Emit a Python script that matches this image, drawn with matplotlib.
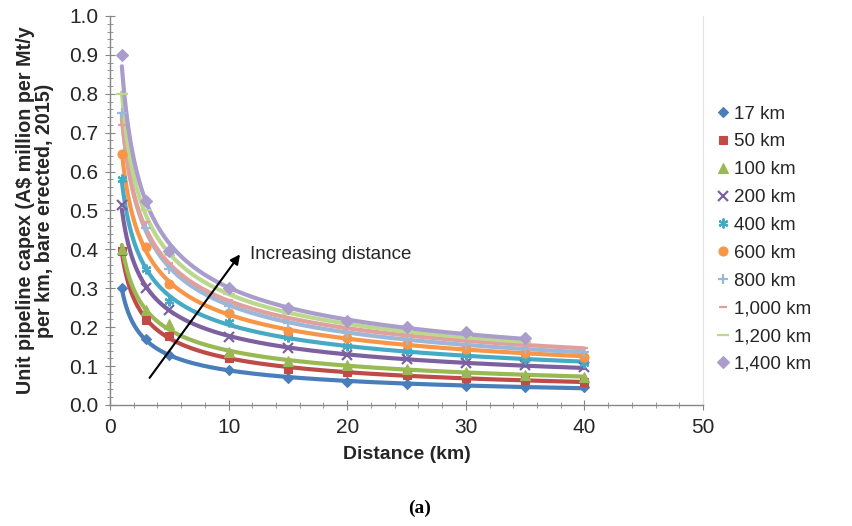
import numpy as np
import matplotlib
matplotlib.use("Agg")
import matplotlib.pyplot as plt
from matplotlib.ticker import MultipleLocator

plt.rcParams['font.family'] = ['Liberation Sans', 'DejaVu Sans']

# ---- data ----
x_full = [1, 3, 5, 10, 15, 20, 25, 30, 35, 40]
x_short = [1, 3, 5, 10, 15, 20, 25, 30, 35]

labels = ["17 km", "50 km", "100 km", "200 km", "400 km", "600 km",
          "800 km", "1,000 km", "1,200 km", "1,400 km"]

v_17 = [0.300, 0.170, 0.128, 0.089, 0.070, 0.060, 0.054, 0.050, 0.047, 0.045]
v_50 = [0.395, 0.218, 0.178, 0.120, 0.092, 0.084, 0.076, 0.070, 0.064, 0.059]
v_100 = [0.400, 0.245, 0.208, 0.137, 0.113, 0.102, 0.092, 0.084, 0.077, 0.072]
v_200 = [0.515, 0.300, 0.245, 0.174, 0.146, 0.128, 0.117, 0.109, 0.103, 0.097]
v_400 = [0.580, 0.350, 0.268, 0.214, 0.176, 0.152, 0.138, 0.128, 0.118, 0.108]
v_600 = [0.645, 0.407, 0.310, 0.236, 0.190, 0.171, 0.157, 0.143, 0.133, 0.124]
v_800 = [0.750, 0.455, 0.350, 0.255, 0.210, 0.185, 0.168, 0.155, 0.145, 0.137]
v_1000 = [0.720, 0.470, 0.365, 0.270, 0.222, 0.195, 0.178, 0.165, 0.155, 0.146]
v_1200 = [0.800, 0.500, 0.385, 0.285, 0.235, 0.207, 0.190, 0.175, 0.163]
v_1400 = [0.900, 0.525, 0.395, 0.300, 0.249, 0.215, 0.201, 0.187, 0.172]

series_x = [x_full] * 8 + [x_short, x_short]
series_y = [v_17, v_50, v_100, v_200, v_400, v_600, v_800, v_1000, v_1200, v_1400]

colors = ["#4A7EBB", "#BE4B48", "#98B954", "#7D60A0", "#46AAC5", "#F79646",
          "#9BB7DA", "#E0A09E", "#BCD88E", "#AA9CCB"]
markers = ["D", "s", "^", "x", (6, 2, 0), "o", "+", "_", "_", "D"]
msizes = [5.5, 6, 6.5, 6.5, 7, 6.5, 7.5, 6, 8, 6]

fig = plt.figure(figsize=(8.52, 5.26), dpi=100)
ax = fig.add_axes([110 / 852, 1 - 405 / 526, (703 - 110) / 852, (405 - 16) / 526])

handles = []
for xs, ys, c, m, ms, lab in zip(series_x, series_y, colors, markers, msizes, labels):
    xs = np.array(xs, float)
    ys = np.array(ys, float)
    # power-law trendline fitted to the data points
    b, loga = np.polyfit(np.log(xs), np.log(ys), 1)
    xf = np.linspace(xs.min(), xs.max(), 300)
    ax.plot(xf, np.exp(loga) * xf ** b, color=c, lw=3.0, zorder=2, solid_capstyle='round')
    mew = 1.6 if m in ("x", "+", "_", (6, 2, 0)) else 0.8
    h = ax.plot(xs, ys, ls='none', marker=m, ms=ms, color=c, mec=c, mew=mew,
                zorder=3, label=lab)[0]
    handles.append(h)

ax.set_xlim(0, 50)
ax.set_ylim(0, 1.0)
ax.xaxis.set_major_locator(MultipleLocator(10))
ax.xaxis.set_minor_locator(MultipleLocator(2))
ax.yaxis.set_major_locator(MultipleLocator(0.1))
ax.yaxis.set_minor_locator(MultipleLocator(0.02))
ax.yaxis.set_major_formatter(matplotlib.ticker.FormatStrFormatter('%.1f'))

ax.spines["top"].set_visible(False)
ax.spines["right"].set_color("#E4E4E4")
for s in ["left", "bottom"]:
    ax.spines[s].set_color("#868686")
    ax.spines[s].set_linewidth(1.0)
ax.tick_params(axis='both', which='major', direction='inout', length=7, color="#868686",
               labelsize=15, labelcolor="#262626")
ax.tick_params(axis='x', which='major', pad=6)
ax.tick_params(axis='y', which='major', pad=5)
ax.tick_params(axis='both', which='minor', direction='inout', length=4, color="#868686")
ax.tick_params(axis='y', right=False, which='both')

ax.set_xlabel("Distance (km)", fontsize=14, fontweight='bold', color="#262626", labelpad=6)
ax.set_ylabel("Unit pipeline capex (A$ million per Mt/y\nper km, bare erected, 2015)",
              fontsize=14.2, fontweight='bold', color="#262626", labelpad=11, linespacing=1.0)

# annotation arrow
ax.annotate("", xy=(11.1, 0.393), xytext=(3.2, 0.064),
            arrowprops=dict(arrowstyle="-|>", color="black", lw=1.5, mutation_scale=14))
ax.text(11.8, 0.386, "Increasing distance", fontsize=13.5, color="#262626", va='center', ha='left')

leg = fig.legend(handles=handles, loc='upper left', bbox_to_anchor=(710 / 852, 1 - 98 / 526),
                 frameon=False, fontsize=13.5, handlelength=0.6, handletextpad=0.3,
                 labelspacing=0.57, borderaxespad=0)
for t in leg.get_texts():
    t.set_color("#262626")

fig.text(420 / 852, 1 - 508 / 526, "(a)", fontsize=14, fontweight='bold',
         family=['Liberation Serif', 'DejaVu Serif'], ha='center', va='center')

fig.savefig("out.png", dpi=100)
